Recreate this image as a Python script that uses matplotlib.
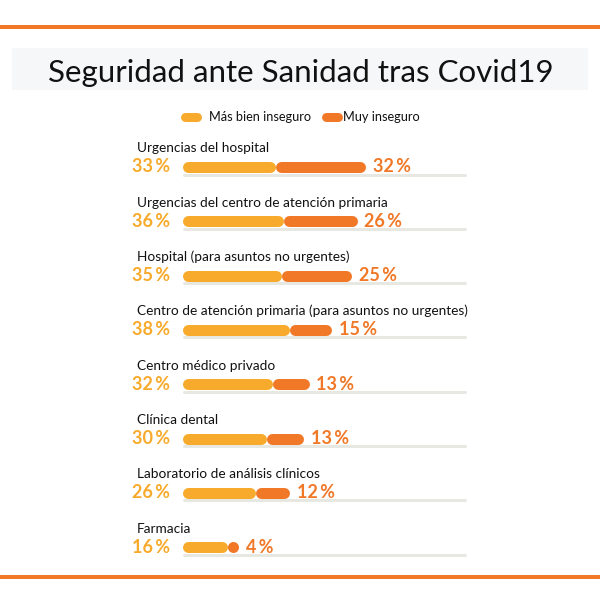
import matplotlib.pyplot as plt
from matplotlib.lines import Line2D
from matplotlib.patches import Rectangle

categories = [
    "Urgencias del hospital",
    "Urgencias del centro de atención primaria",
    "Hospital (para asuntos no urgentes)",
    "Centro de atención primaria (para asuntos no urgentes)",
    "Centro médico privado",
    "Clínica dental",
    "Laboratorio de análisis clínicos",
    "Farmacia",
]
mas_bien_inseguro = [33, 36, 35, 38, 32, 30, 26, 16]
muy_inseguro = [32, 26, 25, 15, 13, 13, 12, 4]
series_names = ["Más bien inseguro", "Muy inseguro"]
title = "Seguridad ante Sanidad tras Covid19"

YELLOW = "#F7AA2B"
ORANGE = "#F07827"
TRACK = "#E8E8E3"
W, H = 600, 604
PX = 0.72  # points per pixel at dpi 100

plt.rcParams["font.family"] = ["Lato", "DejaVu Sans"]

fig = plt.figure(figsize=(W / 100, H / 100), dpi=100)
fig.patch.set_facecolor("white")


def fx(x):
    return x / W


def fy(y):
    return 1 - y / H


# decorations in figure pixels
for yy in (27, 577):
    fig.add_artist(Line2D([0, 1], [fy(yy), fy(yy)], color=ORANGE, lw=4 * PX))
fig.add_artist(Rectangle((fx(12), fy(90)), fx(576), 42 / H, color="#F5F7F8", lw=0))
fig.text(fx(301), fy(82), title, ha="center", va="baseline", fontsize=22.5, color="#111111")

# legend
leg = [(180, 209, YELLOW, series_names[0]), (321, 343, ORANGE, series_names[1])]
for x0, tx, col, name in leg:
    fig.add_artist(Line2D([fx(x0 + 4.5), fx(x0 + 16.5)], [fy(116.5)] * 2, color=col,
                          lw=9 * PX, solid_capstyle="round"))
    fig.text(fx(tx), fy(121), name, ha="left", va="baseline", fontsize=9.2, color="#111111")

# bars: x in percent, 0 % at x=182 px, 2.83 px per %
scale = 2.83
step = 54.3
top = 167 - step / 2
ax = fig.add_axes([fx(182), fy(top + 8 * step), 100 * scale / W, 8 * step / H])
ax.set_xlim(0, 100)
ax.set_ylim(7.5, -0.5)
ax.axis("off")

r = 5.5 / scale


def segment(x0, x1, y, color, z):
    if x1 - x0 <= 2 * r + 0.2:
        ax.plot([(x0 + x1) / 2], [y], "o", color=color, ms=11 * PX, mew=0,
                clip_on=False, zorder=z)
    else:
        ax.plot([x0 + r, x1 - r], [y, y], color=color, lw=11 * PX,
                solid_capstyle="round", clip_on=False, zorder=z)


for i, (cat, a, b) in enumerate(zip(categories, mas_bien_inseguro, muy_inseguro)):
    ax.plot([0.6, 100], [i + 7.5 / step] * 2, color=TRACK, lw=3 * PX,
            solid_capstyle="round", clip_on=False, zorder=1)
    segment(0, a, i, YELLOW, 2)
    segment(a, a + b, i, ORANGE, 3)
    ax.text(-45 / scale, i - 14.5 / step, cat, ha="left", va="baseline", fontsize=9.8,
            color="#111111", clip_on=False)
    ax.text(-12 / scale, i + 5.5 / step, f"{a}\u2009%", ha="right", va="baseline",
            fontsize=13, fontweight="bold", color=YELLOW, clip_on=False)
    ax.text(a + b + 7 / scale, i + 5.5 / step, f"{b}\u2009%", ha="left", va="baseline",
            fontsize=13, fontweight="bold", color=ORANGE, clip_on=False)

fig.savefig("out.png", dpi=100)
